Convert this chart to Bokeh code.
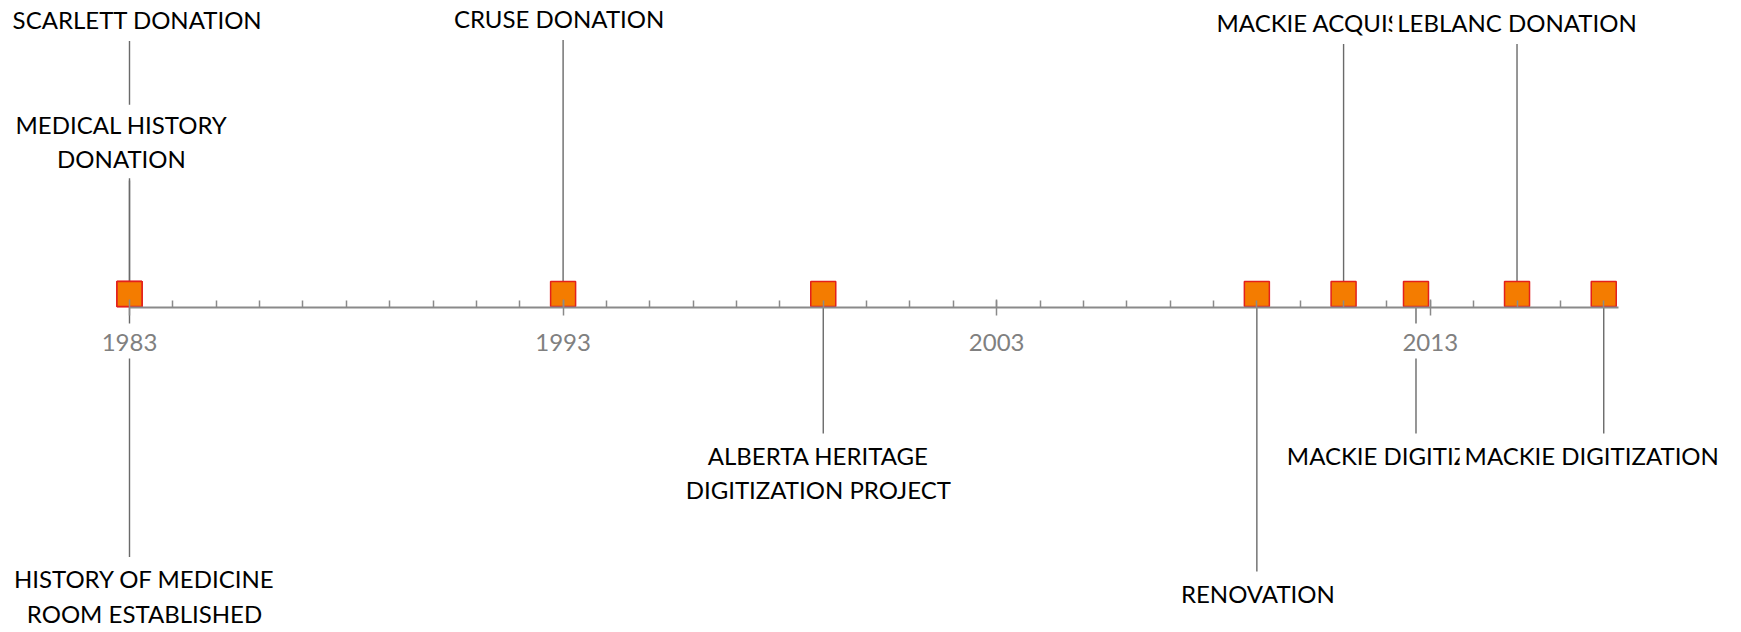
from bokeh.plotting import figure
from bokeh.models import ColumnDataSource, Range1d, LinearAxis, FixedTicker
from bokeh.core.properties import value
from bokeh.embed import file_html
from bokeh.resources import INLINE

# ---- data ----
events = ["SCARLETT DONATION", "MEDICAL HISTORY\nDONATION",
          "HISTORY OF MEDICINE\nROOM ESTABLISHED", "CRUSE DONATION",
          "ALBERTA HERITAGE\nDIGITIZATION PROJECT", "RENOVATION",
          "MACKIE ACQUISITION", "MACKIE DIGITIZATION",
          "LEBLANC DONATION", "MACKIE DIGITIZATION"]
years = [1983, 1983, 1983, 1993, 1999, 2009, 2011, 2012.67, 2015, 2017]
heights = [266, 126.5, -250, 267, -126.5, -264.5, 263, -126.5, 263, -126.5]
major_ticks = [1983, 1993, 2003, 2013]
minor_ticks = list(range(1984, 2018))
axis_bounds = (1983, 2017.35)

# ---- layout / style (screen pixels) ----
W, H = 1741, 632
axis_px = 306.5          # axis distance from top of figure
px_per_year = 43.36
x_of_1983 = 129
label_dx = [8, -8, 15, -4, -5, 1, -2, -2, 0, -12]   # manual label nudges (px)
pitch = 35               # line pitch of two-line labels (px)
gap_above, gap_below = 4, 4

x0 = 1983 - x_of_1983 / px_per_year
xr = Range1d(x0, x0 + W / px_per_year)
yr = Range1d(-(H - axis_px), axis_px)   # 1 data unit == 1 px

p = figure(width=W, height=H, x_range=xr, y_range=yr, output_backend="svg",
           toolbar_location=None, x_axis_type=None, y_axis_type=None,
           min_border=0, outline_line_color=None)
p.xgrid.visible = False
p.ygrid.visible = False

n_lines = [e.count("\n") + 1 for e in events]
offs = [(-(gap_above + pitch / 2 * n) if h > 0 else (gap_below + pitch / 2 * n))
        for h, n in zip(heights, n_lines)]
src = ColumnDataSource(dict(x=years, y=heights, text=events, off=offs, dx=label_dx,
                            y0=[0] * len(years), ym=[13] * len(years)))

# connector lines
p.segment(x0="x", y0="y0", x1="x", y1="y", source=src,
          line_color="#6a6a6a", line_width=1.4)

# opaque backgrounds behind the axis tick labels
p.rect(x=major_ticks, y=[-34] * len(major_ticks), width=64, height=35,
       width_units="screen", height_units="screen",
       fill_color="white", line_color=None)

ax = LinearAxis(fixed_location=0, bounds=axis_bounds,
                ticker=FixedTicker(ticks=major_ticks, minor_ticks=minor_ticks))
ax.axis_line_color = "#8a8a8a"
ax.axis_line_width = 2
ax.major_tick_line_color = "#8a8a8a"
ax.major_tick_line_width = 1.5
ax.major_tick_in = 8
ax.major_tick_out = 8
ax.minor_tick_line_color = "#8a8a8a"
ax.minor_tick_line_width = 1.5
ax.minor_tick_in = 7
ax.minor_tick_out = 0
ax.major_label_text_font = "Lato"
ax.major_label_text_font_size = "24px"
ax.major_label_text_color = "#808080"
ax.major_label_standoff = 19
p.add_layout(ax, "below")

# event markers sitting on the axis
p.scatter(x="x", y="ym", source=src, marker="square", size=25,
          fill_color="#F47C00", line_color="#E3201C", line_width=1.5)

# event labels (opaque background, later labels cover earlier ones)
p.text(x="x", y="y", text="text", x_offset="dx", y_offset="off", source=src,
       text_align="center", text_baseline="middle",
       text_font=value("Lato"), text_font_size="24px", text_color="black",
       text_line_height=1.19,
       background_fill_color="white", padding=5)

open("out.html", "w").write(file_html(p, INLINE))
